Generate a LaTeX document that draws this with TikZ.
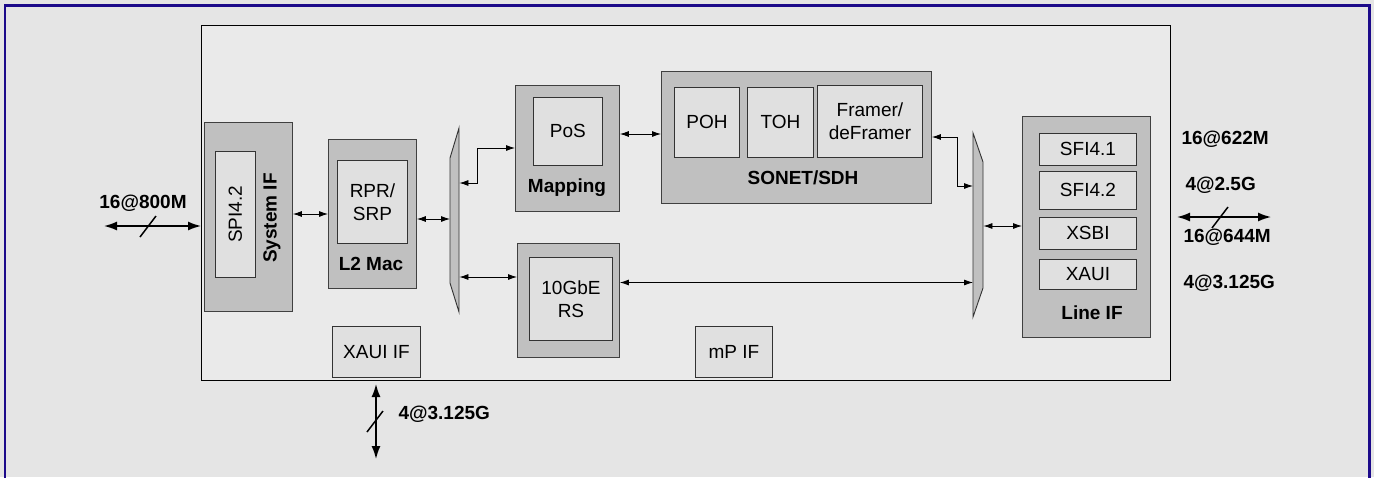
\documentclass[tikz,border=0pt]{standalone}
\usepackage{fontspec}
\setmainfont{Liberation Sans}
\usetikzlibrary{arrows.meta}
\definecolor{bgc}{HTML}{E5E5E5}
\definecolor{chipc}{HTML}{EAEAEA}
\definecolor{grayc}{HTML}{C0C0C0}
\definecolor{lightc}{HTML}{E0E0E0}
\definecolor{framec}{HTML}{1C0A8A}
\tikzset{
  txt/.style={font=\fontsize{19}{23}\selectfont, text=black, align=center},
  btxt/.style={font=\fontsize{19}{23}\selectfont\bfseries, text=black, align=center},
  grp/.style={draw=black!75, fill=grayc, line width=0.9pt, inner sep=0pt, anchor=north west},
  blk/.style={draw=black!80, fill=lightc, line width=0.9pt, inner sep=0pt, anchor=north west, txt},
  muxs/.style={draw=black!80, fill=grayc, line width=0.9pt},
  lnk/.style={draw=black, line width=0.8pt, {Latex[length=9pt,width=6pt]}-{Latex[length=9pt,width=6pt]}},
  ext/.style={draw=black, line width=1.5pt, {Latex[length=13pt,width=9pt]}-{Latex[length=13pt,width=9pt]}},
  slash/.style={draw=black, line width=1.5pt}
}
\begin{document}
\begin{tikzpicture}[x=1pt,y=-1pt]
\useasboundingbox (0,0) rectangle (1374,477);
\fill[bgc] (0,0) rectangle (1374,477);
\draw[framec, line width=2.2pt] (5,486) -- (5,5.5) -- (1369.5,5.5) -- (1369.5,486);
% chip
\node[draw=black, fill=chipc, line width=1pt, inner sep=0pt, anchor=north west, minimum width=969pt, minimum height=355pt] (chip) at (201,25) {};
% System IF
\node[grp, minimum width=88pt, minimum height=189pt] (sys) at (204,122) {};
\node[blk, minimum width=40pt, minimum height=126pt] (spi) at (215,151) {};
\node[txt, rotate=90] (spit) at (spi.center) {SPI4.2};
\node[btxt, rotate=90] (syst) at (272,218) {System IF};
% L2 Mac
\node[grp, minimum width=88pt, minimum height=149pt] (l2) at (328,139) {};
\node[blk, minimum width=70pt, minimum height=83pt] (rpr) at (337,160) {RPR/\\SRP};
\node[btxt] (l2t) at (371,264) {L2 Mac};
% left mux
\node[inner sep=0pt, minimum width=9pt, minimum height=184pt, anchor=north west] (muxL) at (450,128) {};
\draw[muxs] (450,158) -- (459,128) -- (459,312) -- (450,283) -- cycle;
% Mapping
\node[grp, minimum width=104pt, minimum height=126pt] (map) at (515,85) {};
\node[blk, minimum width=69pt, minimum height=68pt] (pos) at (533,97) {PoS};
\node[btxt] (mapt) at (567,188) {Mapping};
% SONET/SDH
\node[grp, minimum width=270pt, minimum height=132pt] (sonet) at (661,71) {};
\node[blk, minimum width=65pt, minimum height=70pt] (poh) at (674,87) {POH};
\node[blk, minimum width=66pt, minimum height=70pt] (toh) at (747,87) {TOH};
\node[blk, minimum width=105pt, minimum height=72pt] (fram) at (817,85) {Framer/\\deFramer};
\node[btxt] (sonett) at (803,178) {SONET/SDH};
% 10GbE RS
\node[grp, minimum width=102pt, minimum height=114pt] (ge) at (517,243) {};
\node[blk, minimum width=83pt, minimum height=83pt] (gein) at (529,257) {10GbE\\RS};
% right mux
\node[inner sep=0pt, minimum width=10pt, minimum height=184pt, anchor=north west] (muxR) at (973,133) {};
\draw[muxs] (973,133) -- (983,162) -- (983,288) -- (973,317) -- cycle;
% Line IF
\node[grp, minimum width=128pt, minimum height=221pt] (lif) at (1022,116) {};
\node[blk, minimum width=97pt, minimum height=32pt] (sfa) at (1039,133) {SFI4.1};
\node[blk, minimum width=97pt, minimum height=38pt] (sfb) at (1039,171) {SFI4.2};
\node[blk, minimum width=97pt, minimum height=32pt] (xsbi) at (1039,217) {XSBI};
\node[blk, minimum width=97pt, minimum height=30pt] (xaui) at (1039,259) {XAUI};
\node[btxt] (lift) at (1092,313) {Line IF};
% small IF boxes
\node[blk, minimum width=88pt, minimum height=51pt] (xif) at (332,326) {XAUI IF};
\node[blk, minimum width=77pt, minimum height=51pt] (mpif) at (695,326) {mP IF};
% internal links
\draw[lnk] (sys.east |- 0,214) -- (l2.west |- 0,214);
\draw[lnk] (l2.east |- 0,219) -- (muxL.west |- 0,219);
\draw[lnk] (muxL.east |- 0,183) -| (477,148) -- (map.west |- 0,148);
\draw[lnk] (muxL.east |- 0,277) -- (ge.west |- 0,277);
\draw[lnk] (map.east |- 0,134) -- (sonet.west |- 0,134);
\draw[lnk] (sonet.east |- 0,137) -| (957,186) -- (muxR.west |- 0,186);
\draw[lnk] (ge.east |- 0,282.5) -- (muxR.west |- 0,282.5);
\draw[lnk] (muxR.east |- 0,226) -- (lif.west |- 0,226);
% external links
\coordinate (lend) at (104,226);
\draw[ext] (lend) -- (chip.west |- lend);
\draw[slash] (140,237) -- (156,216);
\node[btxt] (l800) at (143,203) {16@800M};
\coordinate (rA) at (1177,217);
\coordinate (rB) at (1271,217);
\draw[ext] (rA) -- (rB);
\draw[slash] (1212,228) -- (1228,207);
\node[btxt, anchor=west] (r622) at (1178,139) {16@622M};
\node[btxt, anchor=west] (r25) at (1182,185) {4@2.5G};
\node[btxt, anchor=west] (r644) at (1180,237) {16@644M};
\node[btxt, anchor=west] (r3125) at (1180,283) {4@3.125G};
\coordinate (bend) at (376,459);
\draw[ext] (chip.south -| bend) ++(0,3) -- (bend);
\draw[slash] (367,432) -- (383,411);
\node[btxt, anchor=west] (b3125) at (395,414) {4@3.125G};
\end{tikzpicture}
\end{document}
